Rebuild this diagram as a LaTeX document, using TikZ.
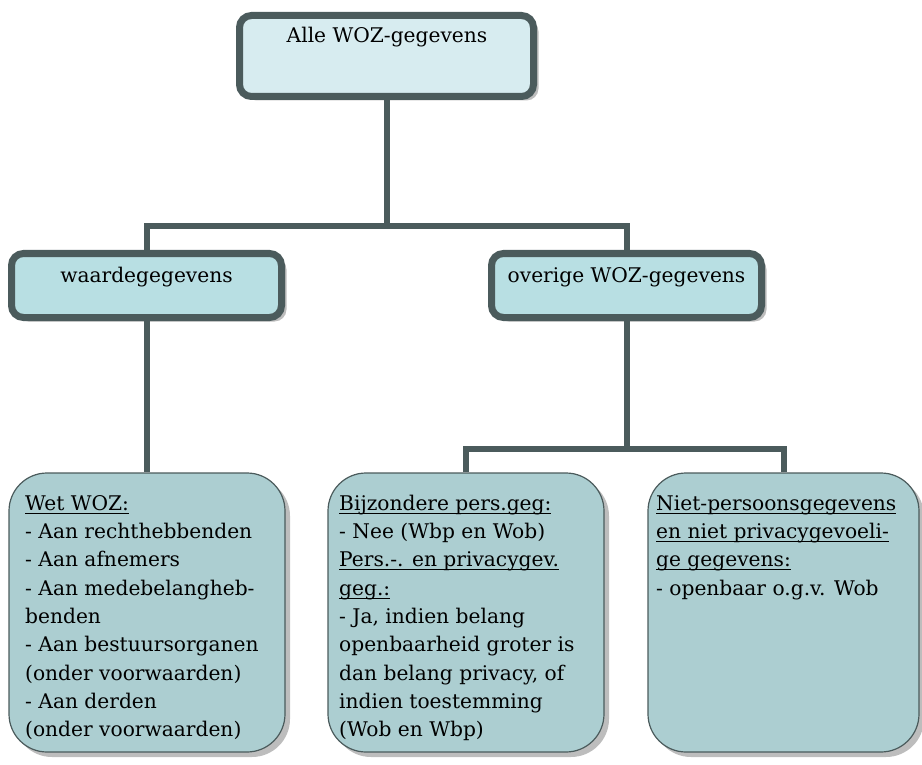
\documentclass[tikz,border=0pt]{standalone}
\usepackage{fontspec}
\setmainfont{DejaVu Serif}
\usetikzlibrary{shadows}
\definecolor{bord}{HTML}{4B5B5C}
\definecolor{topfill}{HTML}{D7ECF0}
\definecolor{midfill}{HTML}{B8DFE3}
\definecolor{botfill}{HTML}{ACCED1}
\definecolor{shad}{HTML}{BDBDBD}
\newcommand\ulin[1]{\setbox0\hbox{#1}\rlap{\rule[-3.5pt]{\wd0}{1.1pt}}\box0}
\tikzset{
  bigbox/.style={draw=bord, line width=7pt, rounded corners=12pt, inner sep=0pt,
    drop shadow={shadow xshift=5pt, shadow yshift=-4pt, fill=shad, opacity=1}},
  topbox/.style={bigbox, fill=topfill, minimum width=294pt, minimum height=81pt},
  midbox/.style={bigbox, fill=midfill, minimum width=270pt, minimum height=64pt},
  botbox/.style={draw=bord, line width=1.2pt, fill=botfill, rounded corners=38pt, inner sep=0pt,
    minimum height=279pt,
    drop shadow={shadow xshift=5pt, shadow yshift=-5pt, fill=shad, opacity=1}},
  conn/.style={draw=bord, line width=6pt, line join=miter},
  txt/.style={inner sep=0pt, font=\fontsize{20.2}{28.3}\selectfont},
  btxt/.style={txt, anchor=north west, align=left},
}
\begin{document}
\begin{tikzpicture}[x=1pt,y=-1pt]
\useasboundingbox (0,0) rectangle (922,765);
% boxes
\node[topbox] (top) at (386.5,56) {};
\node[midbox] (wg) at (146.5,285.5) {};
\node[midbox] (ov) at (626.5,285.5) {};
\node[botbox, minimum width=276pt] (bl) at (147,612.5) {};
\node[botbox, minimum width=276pt] (bm) at (466,612.5) {};
\node[botbox, minimum width=271pt] (br) at (783.5,612.5) {};
% texts
\node[txt, anchor=base] (toptxt) at (387,43) {Alle WOZ-gegevens};
\node[txt, anchor=base] (wgtxt) at (146.5,282) {waardegegevens};
\node[txt, anchor=base] (ovtxt) at (626.5,282) {overige WOZ-gegevens};
\node[btxt] (bltxt) at (25,493) {\rule{0pt}{17pt}\ulin{Wet WOZ:}\\
- Aan rechthebbenden\\
- Aan afnemers\\
- Aan medebelangheb-\\
benden\\
- Aan bestuursorganen\\
(onder voorwaarden)\\
- Aan derden\\
(onder voorwaarden)};
\node[btxt] (bmtxt) at (339,493) {\rule{0pt}{17pt}\ulin{Bijzondere pers.geg:}\\
- Nee (Wbp en Wob)\\
\ulin{Pers.-. en privacygev.}\\
\ulin{geg.:}\\
- Ja, indien belang\\
openbaarheid groter is\\
dan belang privacy, of\\
indien toestemming\\
(Wob en Wbp)};
\node[btxt] (brtxt) at (656,493) {\rule{0pt}{17pt}\ulin{Niet-persoonsgegevens}\\
\ulin{en niet privacygevoeli-}\\
\ulin{ge gegevens:}\\
- openbaar o.g.v. Wob};
% connectors
\coordinate (h1) at (0,226);
\coordinate (h2) at (0,449);
\draw[conn] (top.south) -- (top.south |- h1);
\draw[conn] (wg.north) -- (wg.north |- h1) -- (ov.north |- h1) -- (ov.north);
\draw[conn] (wg.south) -- (wg.south |- bl.north);
\draw[conn] (ov.south) -- (ov.south |- h2);
\draw[conn] (bm.north) -- (bm.north |- h2) -- (br.north |- h2) -- (br.north);
\end{tikzpicture}
\end{document}
